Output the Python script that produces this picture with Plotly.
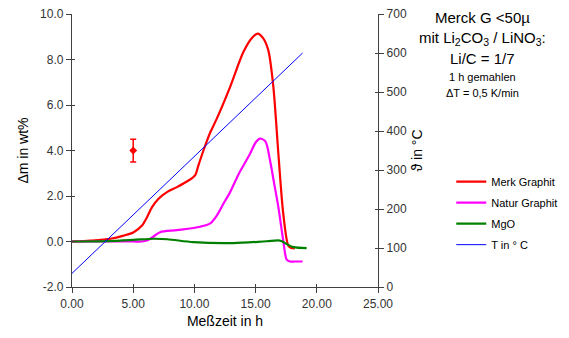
import plotly.graph_objects as go

# --- data ---
red_h = [0, 1.5, 3.14, 4.22, 5.04, 5.72, 6.13, 6.54, 7.07, 7.76, 8.57, 9.52, 10.07, 10.33, 10.74, 11.3, 11.83, 12.92, 14.0, 14.7, 15.17, 15.6, 16.04, 16.45, 16.86, 17.26, 17.67, 17.9, 18.2]
red_m = [0, 0.04, 0.12, 0.26, 0.41, 0.70, 1.07, 1.51, 1.88, 2.17, 2.39, 2.68, 2.92, 3.35, 4.0, 4.8, 5.4, 6.8, 8.33, 8.95, 9.14, 8.95, 8.4, 6.8, 3.86, 1.22, -0.18, -0.28, -0.3]

mag_h = [0, 3, 5.0, 5.7, 6.13, 6.6, 7.2, 8.57, 10.47, 11.3, 11.83, 12.37, 12.92, 13.6, 14.55, 15.0, 15.36, 15.8, 16.18, 16.5, 16.86, 17.26, 17.54, 17.8, 18.2, 18.84]
mag_m = [0, 0, 0, 0.0, 0.04, 0.2, 0.41, 0.5, 0.65, 0.8, 1.14, 1.66, 2.17, 2.95, 3.86, 4.35, 4.52, 4.4, 3.56, 2.6, 1.51, 0.04, -0.8, -0.88, -0.88, -0.88]

grn_h = [0, 3, 5, 6.67, 7.8, 9.93, 13.2, 15.9, 17.0, 17.5, 18.1, 19.17]
grn_m = [0, 0.02, 0.07, 0.12, 0.1, -0.03, -0.07, 0.01, 0.04, -0.1, -0.25, -0.29]

temp_h = [0, 18.84]
temp_c = [35, 600]

err_h = [5.0]
err_m = [4.0]
err_v = [0.5]

x_ticks = [0, 5, 10, 15, 20, 25]
x_labels = ["0.00", "5.00", "10.00", "15.00", "20.00", "25.00"]
y_ticks = [-2, 0, 2, 4, 6, 8, 10]
y_labels = ["-2.0", "0.0", "2.0", "4.0", "6.0", "8.0", "10.0"]
y2_ticks = [0, 100, 200, 300, 400, 500, 600, 700]
y2_labels = ["0", "100", "200", "300", "400", "500", "600", "700"]

names = ["Merk Graphit", "Natur Graphit", "MgO", "T in ° C"]

FONT = "Liberation Sans, Arial, sans-serif"
AX = "#404040"

fig = go.Figure()
fig.add_trace(go.Scatter(x=red_h, y=red_m, mode="lines", name=names[0], legendgroup="a",
                         line=dict(color="#ff0000", width=2.2, shape="spline", smoothing=0.8)))
fig.add_trace(go.Scatter(x=mag_h, y=mag_m, mode="lines", name=names[1], legendgroup="b",
                         line=dict(color="#ff00ff", width=2.2, shape="spline", smoothing=0.8)))
fig.add_trace(go.Scatter(x=grn_h, y=grn_m, mode="lines", name=names[2], legendgroup="c",
                         line=dict(color="#008000", width=2.2, shape="spline", smoothing=0.8)))
fig.add_trace(go.Scatter(x=temp_h, y=temp_c, mode="lines", name=names[3], legendgroup="d",
                         yaxis="y2", line=dict(color="#0000ff", width=1)))
fig.add_trace(go.Scatter(x=err_h, y=err_m, mode="markers", showlegend=False,
                         marker=dict(symbol="diamond", color="#ff0000", size=6),
                         error_y=dict(type="data", array=err_v, color="#ff0000", thickness=1.5, width=3)))

common = dict(showgrid=False, zeroline=False, showline=True, linecolor=AX, linewidth=1.3,
              tickfont=dict(family=FONT, size=12, color="#333333"), ticks="outside",
              ticklen=5, tickcolor=AX, tickwidth=1.3, ticklabeloverflow="allow")

# page body has an 8px margin, so the figure is slightly smaller and shifted
W, H = 561, 330
L, T = 63.5, 6
PW, PH = 307, 272.7

fig.update_layout(
    width=W, height=H,
    margin=dict(l=L, r=W - L - PW, t=T, b=H - T - PH, autoexpand=False),
    paper_bgcolor="white", plot_bgcolor="white",
    font=dict(family=FONT, color="#000000"),
    xaxis=dict(range=[0, 25], tickvals=x_ticks, ticktext=x_labels,
               title=dict(text="Meßzeit in h", font=dict(family=FONT, size=14), standoff=6), **common),
    yaxis=dict(range=[-2, 10], tickvals=y_ticks, ticktext=y_labels,
               title=dict(text="Δm in wt%", font=dict(family=FONT, size=14), standoff=8), **common),
    yaxis2=dict(range=[0, 700], tickvals=y2_ticks, ticktext=y2_labels, overlaying="y", side="right",
                title=dict(text="ϑ in °C", font=dict(family=FONT, size=14), standoff=6), **common),
    xaxis3=dict(range=[0, 25], tickvals=x_ticks, overlaying="x", showticklabels=False, showline=False,
                showgrid=False, zeroline=False, ticks="inside", ticklen=3, tickcolor=AX, tickwidth=1.3),
    yaxis3=dict(range=[-2, 10], tickvals=y_ticks, overlaying="y", showticklabels=False, showline=False,
                showgrid=False, zeroline=False, ticks="inside", ticklen=3, tickcolor=AX, tickwidth=1.3),
    yaxis4=dict(range=[0, 700], tickvals=y2_ticks, overlaying="y", side="right", showticklabels=False,
                showline=False, showgrid=False, zeroline=False, ticks="inside", ticklen=3,
                tickcolor=AX, tickwidth=1.3),
    legend=dict(x=(444 - L) / PW, y=1 - (159 - T) / PH, xanchor="left", yanchor="top",
                bgcolor="rgba(0,0,0,0)",
                font=dict(family=FONT, size=11, color="#000000"), tracegroupgap=2,
                itemwidth=30),
    showlegend=True,
)

# invisible traces to activate the overlay tick axes
fig.add_trace(go.Scatter(x=[0], y=[0], xaxis="x3", yaxis="y3", mode="markers",
                         marker=dict(opacity=0), showlegend=False, hoverinfo="skip"))
fig.add_trace(go.Scatter(x=[0], y=[0], xaxis="x3", yaxis="y4", mode="markers",
                         marker=dict(opacity=0), showlegend=False, hoverinfo="skip"))

ann = [
    ("Merck G <50µ", 15, 17),
    ("mit Li<sub>2</sub>CO<sub>3</sub> / LiNO<sub>3</sub>:", 15, 38),
    ("Li/C = 1/7", 15, 58),
    ("1 h gemahlen", 11, 77),
    ("ΔT = 0,5 K/min", 11, 93),
]
for txt, sz, ypix in ann:
    fig.add_annotation(text=txt, xref="paper", yref="paper",
                       x=(483 - 8 - L) / PW, y=1 - (ypix - 8 - T) / PH,
                       xanchor="center", yanchor="middle", showarrow=False,
                       font=dict(family=FONT, size=sz, color="#000000"))

fig.write_html("out.html")
